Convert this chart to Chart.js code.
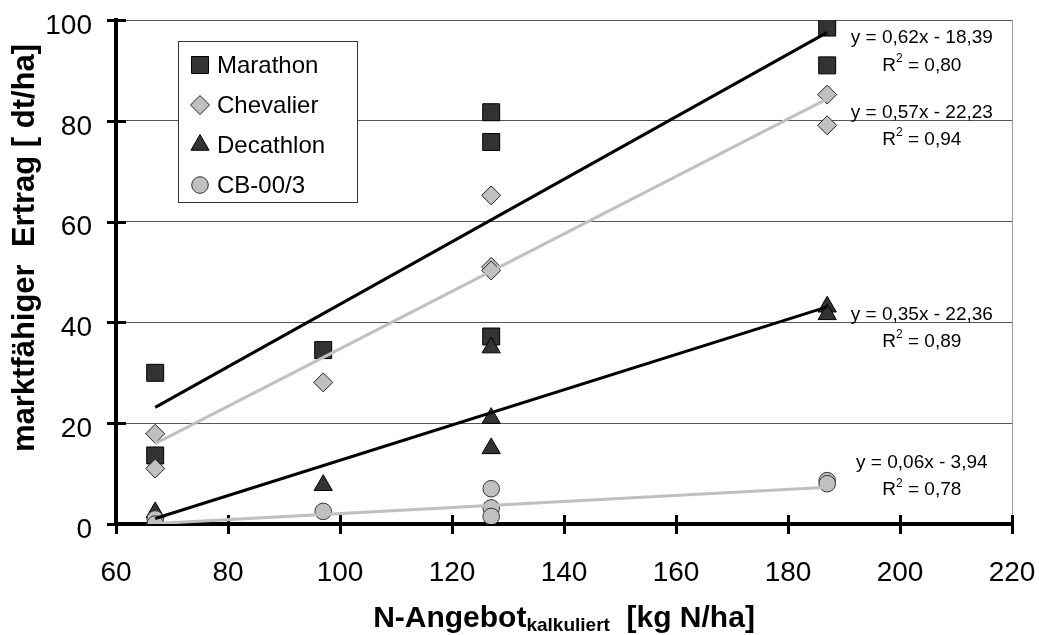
<!DOCTYPE html>
<html lang="de">
<head>
  <meta charset="UTF-8" />
  <title>Marktfähiger Ertrag – N-Angebot</title>
  <script src="https://cdn.jsdelivr.net/npm/chart.js"></script>
  <style>
    html, body { margin: 0; padding: 0; background: #fff; }
    #wrap { width: 1039px; height: 635px; }
  </style>
</head>
<body>
  <div id="wrap"><canvas id="chart" width="1039" height="635"></canvas></div>

  <script>
    // N-Angebot kalkuliert [kg N/ha] for each plot (shared by all cultivars)
    const nSupply = [67, 67, 97, 127, 127, 127, 187, 187];

    // marktfähiger Ertrag [dt/ha]
    const marathon  = [30.0, 13.6, 34.5, 81.7, 75.8, 37.2, 98.5, 91.0];
    const chevalier = [17.9, 11.0, 28.1, 65.2, 51.0, 50.3, 85.2, 79.1];
    const decathlon = [ 2.3,  0.0,  7.7, 35.0, 21.0, 15.0, 43.1, 41.6];
    const cb003     = [ 1.0,  0.0,  2.5,  7.0,  3.2,  1.5,  8.6,  8.0];

    const cultivars = ['Marathon', 'Chevalier', 'Decathlon', 'CB-00/3'];

    // linear trend lines as printed next to the chart
    const slopes     = [0.62, 0.57, 0.35, 0.06];
    const intercepts = [-18.39, -22.23, -22.36, -3.94];
    const rSquared   = [0.80, 0.94, 0.89, 0.78];
    const trendFrom  = 67;
    const trendTo    = 187;

    const xTicks = [60, 80, 100, 120, 140, 160, 180, 200, 220];
    const yTicks = [0, 20, 40, 60, 80, 100];

    const FONT = "'Liberation Sans', Arial, sans-serif";
    const DARK = '#333333';
    const LIGHT = '#c0c0c0';

    // marker look per cultivar
    const styles = [
      { pointStyle: 'rect',    radius: 12,   fill: DARK,  stroke: '#000' },
      { pointStyle: 'rectRot', radius: 9.5,  fill: LIGHT, stroke: '#222' },
      { pointStyle: 'triangle',radius: 10.5, fill: DARK,  stroke: '#000' },
      { pointStyle: 'circle',  radius: 8.3,  fill: LIGHT, stroke: '#333' }
    ];
    const trendColors = ['#000', LIGHT, '#000', LIGHT];

    const seriesValues = [marathon, chevalier, decathlon, cb003];

    const pointSets = seriesValues.map((vals, i) => ({
      type: 'scatter',
      label: cultivars[i],
      data: nSupply.map((x, j) => ({ x: x, y: vals[j] })),
      pointStyle: styles[i].pointStyle,
      pointRadius: styles[i].radius,
      pointHoverRadius: styles[i].radius,
      backgroundColor: styles[i].fill,
      borderColor: styles[i].stroke,
      borderWidth: 1,
      order: 4 - i          // later cultivars sit on top
    }));

    const trendSets = slopes.map((m, i) => ({
      type: 'line',
      label: cultivars[i] + ' Trend',
      data: [trendFrom, trendTo].map(x => ({ x: x, y: m * x + intercepts[i] })),
      showLine: true,
      borderColor: trendColors[i],
      borderWidth: 3,
      pointRadius: 0,
      fill: false,
      order: 0              // trend lines over the markers
    }));

    const fmt = v => Math.abs(v).toFixed(2).replace('.', ',');

    // crossing tick marks, right frame line, titles, legend, equations
    const axisDecor = {
      id: 'axisDecor',
      beforeDatasetsDraw(chart) {
        const { ctx, chartArea: a, scales: { x, y } } = chart;
        ctx.save();
        ctx.strokeStyle = '#999';
        ctx.lineWidth = 1;
        ctx.beginPath();
        ctx.moveTo(a.right + 0.5, a.top);
        ctx.lineTo(a.right + 0.5, a.bottom);
        ctx.stroke();

        ctx.strokeStyle = '#000';
        ctx.lineWidth = 3;
        yTicks.forEach(v => {
          const py = Math.round(y.getPixelForValue(v)) + 0.5;
          ctx.beginPath();
          ctx.moveTo(a.left - 9, py);
          ctx.lineTo(a.left + 10, py);
          ctx.stroke();
        });
        xTicks.forEach(v => {
          const px = Math.round(x.getPixelForValue(v)) + 0.5;
          ctx.beginPath();
          ctx.moveTo(px, a.bottom - 9);
          ctx.lineTo(px, a.bottom + 10);
          ctx.stroke();
        });
        ctx.restore();
      },
      afterDraw(chart) {
        const { ctx, chartArea: a, scales: { x, y } } = chart;
        ctx.save();
        ctx.fillStyle = '#000';

        // y axis title
        ctx.font = 'bold 31px ' + FONT;
        ctx.textAlign = 'center';
        ctx.textBaseline = 'alphabetic';
        ctx.translate(34, 248);
        ctx.rotate(-Math.PI / 2);
        ctx.fillText('marktfähiger  Ertrag [ dt/ha]', 0, 0);
        ctx.setTransform(1, 0, 0, 1, 0, 0);

        // x axis title with subscript
        const p1 = 'N-Angebot', p2 = 'kalkuliert', p3 = '  [kg N/ha]';
        const big = 'bold 30px ' + FONT, small = 'bold 19px ' + FONT;
        ctx.textAlign = 'left';
        ctx.font = big;
        const w1 = ctx.measureText(p1).width, w3 = ctx.measureText(p3).width;
        ctx.font = small;
        const w2 = ctx.measureText(p2).width;
        let tx = (a.left + a.right) / 2 - (w1 + w2 + w3) / 2;
        const base = 627;
        ctx.font = big;   ctx.fillText(p1, tx, base); tx += w1;
        ctx.font = small; ctx.fillText(p2, tx, base + 4); tx += w2;
        ctx.font = big;   ctx.fillText(p3, tx, base);

        // legend box
        const lx = a.left + 62, ly = a.top + 21, lw = 179, lh = 161;
        ctx.fillStyle = '#fff';
        ctx.fillRect(lx, ly, lw, lh);
        ctx.strokeStyle = '#333';
        ctx.lineWidth = 1;
        ctx.strokeRect(lx + 0.5, ly + 0.5, lw, lh);
        ctx.font = '24px ' + FONT;
        ctx.textBaseline = 'middle';
        cultivars.forEach((name, i) => {
          const cy = ly + 24 + i * 40;
          ctx.fillStyle = styles[i].fill;
          ctx.strokeStyle = styles[i].stroke;
          ctx.lineWidth = 1;
          Chart.helpers.drawPoint(ctx, {
            pointStyle: styles[i].pointStyle,
            radius: styles[i].radius,
            rotation: 0,
            borderWidth: 1
          }, lx + 22, cy);
          ctx.fillStyle = '#000';
          ctx.fillText(name, lx + 39, cy + 1);
        });

        // trend equations
        const eqAnchorX = 203.9;
        const eqAnchorY = [[96.4, 90.9], [81.5, 76.2], [41.5, 36.1], [12.1, 6.7]];
        ctx.fillStyle = '#000';
        slopes.forEach((m, i) => {
          const cx = x.getPixelForValue(eqAnchorX);
          const y1 = y.getPixelForValue(eqAnchorY[i][0]);
          const y2 = y.getPixelForValue(eqAnchorY[i][1]);
          ctx.font = '19px ' + FONT;
          ctx.textAlign = 'center';
          ctx.textBaseline = 'middle';
          ctx.fillText('y = ' + fmt(m) + 'x - ' + fmt(intercepts[i]), cx, y1);

          const r = 'R', sup = '2', rest = ' = ' + fmt(rSquared[i]);
          ctx.font = '19px ' + FONT;
          const wr = ctx.measureText(r).width, wrest = ctx.measureText(rest).width;
          ctx.font = '12px ' + FONT;
          const ws = ctx.measureText(sup).width;
          let sx = cx - (wr + ws + wrest) / 2;
          ctx.textAlign = 'left';
          ctx.font = '19px ' + FONT; ctx.fillText(r, sx, y2); sx += wr;
          ctx.font = '12px ' + FONT; ctx.fillText(sup, sx, y2 - 7); sx += ws;
          ctx.font = '19px ' + FONT; ctx.fillText(rest, sx, y2);
        });
        ctx.restore();
      }
    };

    new Chart(document.getElementById('chart'), {
      type: 'scatter',
      data: { datasets: trendSets.concat(pointSets) },
      options: {
        responsive: false,
        animation: false,
        layout: { padding: { top: 20, right: 27, left: 0, bottom: 0 } },
        plugins: {
          legend: { display: false },
          tooltip: { enabled: false }
        },
        scales: {
          x: {
            type: 'linear',
            min: 60,
            max: 220,
            afterBuildTicks: s => { s.ticks = xTicks.map(v => ({ value: v })); },
            afterFit: s => { s.height = 111; s.paddingLeft = 0; s.paddingRight = 0; },
            ticks: { font: { family: FONT, size: 28 }, color: '#000', padding: 32, maxRotation: 0 },
            grid: { drawOnChartArea: false, drawTicks: false },
            border: { display: true, color: '#000', width: 4 }
          },
          y: {
            type: 'linear',
            min: 0,
            max: 100,
            afterBuildTicks: s => { s.ticks = yTicks.map(v => ({ value: v })); },
            afterFit: s => { s.width = 116; s.paddingTop = 0; s.paddingBottom = 0; },
            ticks: { font: { family: FONT, size: 28 }, color: '#000', padding: 24, labelOffset: 6 },
            grid: { color: '#555', lineWidth: 1, drawTicks: false },
            border: { display: true, color: '#000', width: 4 }
          }
        }
      },
      plugins: [axisDecor]
    });
  </script>
</body>
</html>
